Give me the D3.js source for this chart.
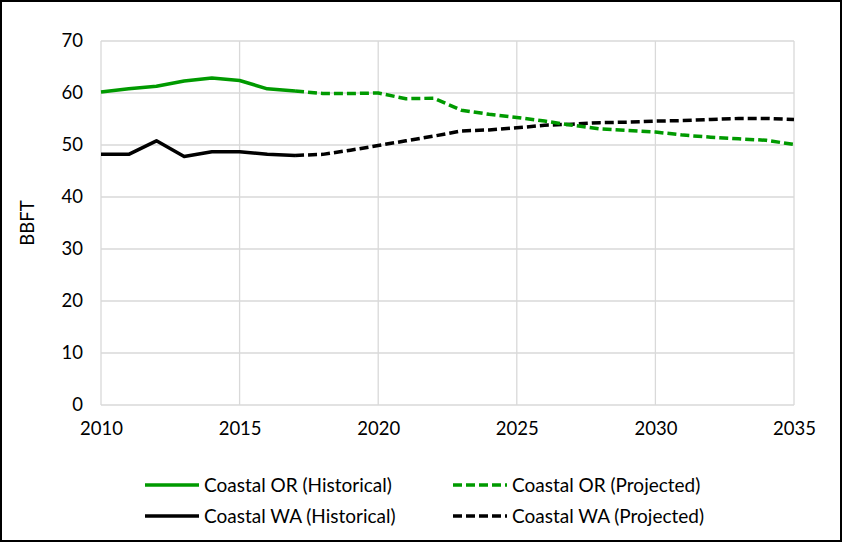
<!DOCTYPE html>
<html><head><meta charset="utf-8">
<script src="https://cdn.jsdelivr.net/npm/d3@7"></script>
<style>body{margin:0;background:#fff;} svg{display:block;font-family:Lato, "Open Sans", sans-serif;}</style>
</head><body><svg id="c" width="842" height="542"></svg>
<script>
const histYears = [2010,2011,2012,2013,2014,2015,2016,2017];
const orHist = [60.2,60.8,61.3,62.3,62.9,62.4,60.8,60.4];
const waHist = [48.2,48.2,50.8,47.8,48.7,48.7,48.2,48.0];
const projYears = [2017,2018,2019,2020,2021,2022,2023,2024,2025,2026,2027,2028,2029,2030,2031,2032,2033,2034,2035];
const orProj = [60.4,59.9,59.9,60.0,58.9,59.0,56.7,55.9,55.3,54.6,53.8,53.1,52.8,52.5,51.9,51.5,51.2,50.9,50.1];
const waProj = [48.0,48.2,49.0,49.9,50.8,51.7,52.7,52.9,53.3,53.8,54.0,54.3,54.4,54.6,54.7,54.9,55.1,55.1,54.9];
const xTicks = [2010,2015,2020,2025,2030,2035];
const yTicks = [0,10,20,30,40,50,60,70];
const seriesNames = ["Coastal OR (Historical)","Coastal OR (Projected)","Coastal WA (Historical)","Coastal WA (Projected)"];

const GREEN = "#009a00", BLACK = "#000";
const svg = d3.select("#c");
svg.append("rect").attr("x",1).attr("y",1).attr("width",840).attr("height",540)
  .attr("fill","#fff").attr("stroke","#000").attr("stroke-width",2);

const x = d3.scaleLinear().domain([2010,2035]).range([101,794]);
const y = d3.scaleLinear().domain([0,70]).range([405,41]);

// gridlines
svg.append("g").selectAll("line").data(yTicks).join("line")
  .attr("x1",x(2010)).attr("x2",x(2035)).attr("y1",d=>y(d)).attr("y2",d=>y(d))
  .attr("stroke","#d9d9d9").attr("stroke-width",1.3);
svg.append("g").selectAll("line").data(xTicks).join("line")
  .attr("y1",y(0)).attr("y2",y(70)).attr("x1",d=>x(d)).attr("x2",d=>x(d))
  .attr("stroke","#d9d9d9").attr("stroke-width",1.3);

// axes
const xa = svg.append("g").attr("transform",`translate(0,${y(0)})`)
  .call(d3.axisBottom(x).tickValues(xTicks).tickFormat(d3.format("d")).tickSize(0).tickPadding(17));
xa.select(".domain").remove();
xa.selectAll("text").attr("font-size",18.5).attr("fill","#000").attr("font-family","Lato");
const ya = svg.append("g").attr("transform",`translate(${x(2010)},0)`)
  .call(d3.axisLeft(y).tickValues(yTicks).tickSize(0).tickPadding(18));
ya.select(".domain").remove();
ya.selectAll("text").attr("font-size",18.5).attr("fill","#000").attr("font-family","Lato");

svg.append("text").attr("transform","translate(34,223) rotate(-90)")
  .attr("text-anchor","middle").attr("font-size",18.5).attr("font-family","Lato").text("BBFT");

const line = d3.line().x(d=>x(d[0])).y(d=>y(d[1]));
const series = [
  {yrs:histYears, vals:orHist, color:GREEN, dash:null},
  {yrs:projYears, vals:orProj, color:GREEN, dash:"9,4"},
  {yrs:histYears, vals:waHist, color:BLACK, dash:null},
  {yrs:projYears, vals:waProj, color:BLACK, dash:"9,4"}
];
const order = [2,3,0,1];
order.forEach(i=>{
  const s = series[i];
  svg.append("path").datum(s.yrs.map((yr,j)=>[yr,s.vals[j]]))
    .attr("d",line).attr("fill","none").attr("stroke",s.color)
    .attr("stroke-width",3.5).attr("stroke-linejoin","round")
    .attr("stroke-dasharray",s.dash);
});

// legend
const legPos = [[145,485],[453,485],[145,516],[453,516]];
series.forEach((s,i)=>{
  const [lx,ly] = legPos[i];
  svg.append("line").attr("x1",lx).attr("x2",lx+54).attr("y1",ly).attr("y2",ly)
    .attr("stroke",s.color).attr("stroke-width",3.5).attr("stroke-dasharray",s.dash ? "9,4":null);
  svg.append("text").attr("x",lx+59).attr("y",ly).attr("dy","0.35em")
    .attr("font-size",19).attr("font-family","Lato").text(seriesNames[i]);
});
</script></body></html>
